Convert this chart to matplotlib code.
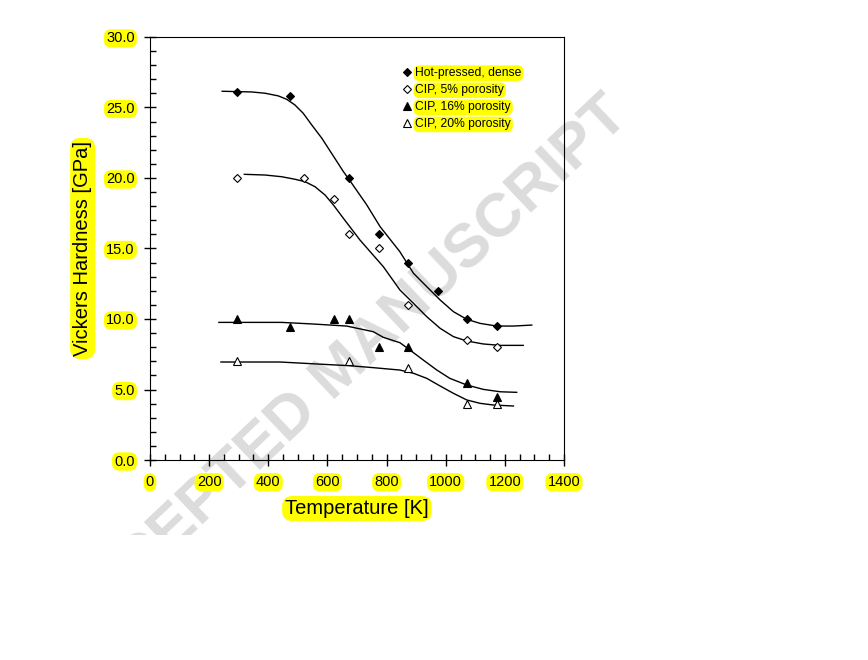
import numpy as np
import matplotlib
matplotlib.use("Agg")
import matplotlib.pyplot as plt
from matplotlib.ticker import MultipleLocator, FormatStrFormatter
from matplotlib.transforms import Bbox, TransformedBbox

plt.rcParams['font.family'] = ['Liberation Sans', 'DejaVu Sans']

# measured points
temp = [293, 473, 673, 773, 873, 973, 1073, 1173]
hv_dense = [26.1, 25.8, 20.0, 16.0, 14.0, 12.0, 10.0, 9.5]

temp_5 = [293, 521, 621, 673, 773, 873, 1073, 1173]
hv_5 = [20.0, 20.0, 18.5, 16.0, 15.0, 11.0, 8.5, 8.0]

temp_16 = [293, 473, 621, 673, 773, 873, 1073, 1173]
hv_16 = [10.0, 9.45, 10.0, 10.0, 8.0, 8.0, 5.45, 4.5]

temp_20 = [293, 673, 873, 1073, 1173]
hv_20 = [7.0, 7.0, 6.5, 3.95, 4.0]

# fitted curves
fit_t_dense = [244, 344, 389, 434, 462, 490, 518, 547, 581, 614, 654, 673, 733, 778, 845,
               891, 936, 981, 1026, 1071, 1116, 1172, 1229, 1291]
fit_h_dense = [26.15, 26.10, 26.01, 25.82, 25.58, 25.18, 24.59, 23.76, 22.82, 21.75, 20.45, 19.9,
               18.09, 16.55, 14.77, 13.24, 12.29, 11.35, 10.52, 9.98, 9.69, 9.5, 9.5, 9.57]

fit_t_5 = [319, 389, 445, 490, 524, 558, 592, 620, 654, 710, 789, 845, 891, 936, 981, 1026,
           1071, 1127, 1184, 1262]
fit_h_5 = [20.26, 20.21, 20.09, 19.91, 19.74, 19.38, 18.79, 18.09, 17.14, 15.6, 13.71, 12.06,
           11.11, 10.16, 9.34, 8.75, 8.44, 8.23, 8.13, 8.13]

fit_t_16 = [233, 445, 547, 665, 755, 789, 845, 879, 924, 970, 1014, 1071, 1127, 1184, 1240]
fit_h_16 = [9.76, 9.76, 9.65, 9.5, 9.1, 8.7, 8.32, 7.80, 7.09, 6.38, 5.79, 5.32, 5.01, 4.84, 4.8]

fit_t_20 = [240, 440, 564, 673, 755, 845, 891, 936, 981, 1026, 1071, 1116, 1161, 1229]
fit_h_20 = [6.95, 6.95, 6.81, 6.69, 6.55, 6.38, 6.15, 5.79, 5.25, 4.73, 4.26, 4.02, 3.9, 3.83]

labels = ['Hot-pressed, dense', 'CIP, 5% porosity', 'CIP, 16% porosity', 'CIP, 20% porosity']

hl = dict(boxstyle='round,pad=0.15,rounding_size=0.5', fc='yellow', ec='none')

fig = plt.figure(figsize=(8.68, 6.6), dpi=100)
ax = fig.add_axes([0.1728, 0.303, 0.477, 0.641])

# grey watermark, cut off below like in the source
wm = ax.text(0.394, 0.437, 'ACCEPTED MANUSCRIPT', transform=fig.transFigure,
             rotation=43.5, ha='center', va='center', fontsize=44.5, fontweight='bold',
             color='#dcdcdc', zorder=0.5, rotation_mode='anchor')
wm.set_clip_box(TransformedBbox(Bbox([[0, 0.19], [1, 1]]), fig.transFigure))
wm.set_clip_on(True)

for ft, fh in [(fit_t_dense, fit_h_dense), (fit_t_5, fit_h_5),
               (fit_t_16, fit_h_16), (fit_t_20, fit_h_20)]:
    ax.plot(ft, fh, color='black', lw=1)

ax.plot(temp, hv_dense, ls='none', marker='D', ms=4.3, mfc='black', mec='black', mew=0.8, label=labels[0])
ax.plot(temp_5, hv_5, ls='none', marker='D', ms=4.3, mfc='white', mec='black', mew=0.8, label=labels[1])
ax.plot(temp_16, hv_16, ls='none', marker='^', ms=5.5, mfc='black', mec='black', mew=0.8, label=labels[2])
ax.plot(temp_20, hv_20, ls='none', marker='^', ms=5.5, mfc='white', mec='black', mew=0.8, label=labels[3])

ax.set_xlim(0, 1400)
ax.set_ylim(0, 30)
ax.xaxis.set_major_locator(MultipleLocator(200))
ax.xaxis.set_minor_locator(MultipleLocator(50))
ax.yaxis.set_major_locator(MultipleLocator(5))
ax.yaxis.set_minor_locator(MultipleLocator(1))
ax.yaxis.set_major_formatter(FormatStrFormatter('%.1f'))
ax.tick_params(which='major', direction='inout', length=8, width=1, labelsize=10.5, pad=7)
ax.tick_params(which='minor', direction='in', length=4, width=1)
ax.tick_params(top=False, right=False)
for lab in ax.get_xticklabels() + ax.get_yticklabels():
    lab.set_bbox(hl)

ax.set_xlabel('Temperature [K]', fontsize=14.5, labelpad=7, bbox=hl)
ax.set_ylabel('Vickers Hardness [GPa]', fontsize=14.5, labelpad=10, bbox=hl)

leg = ax.legend(loc='upper left', bbox_to_anchor=(0.6, 0.94), frameon=False,
                fontsize=8.7, handlelength=0.6, handletextpad=0.4, labelspacing=0.42,
                borderaxespad=0)
for t in leg.get_texts():
    t.set_bbox(hl)

fig.savefig('out.png', dpi=100)
